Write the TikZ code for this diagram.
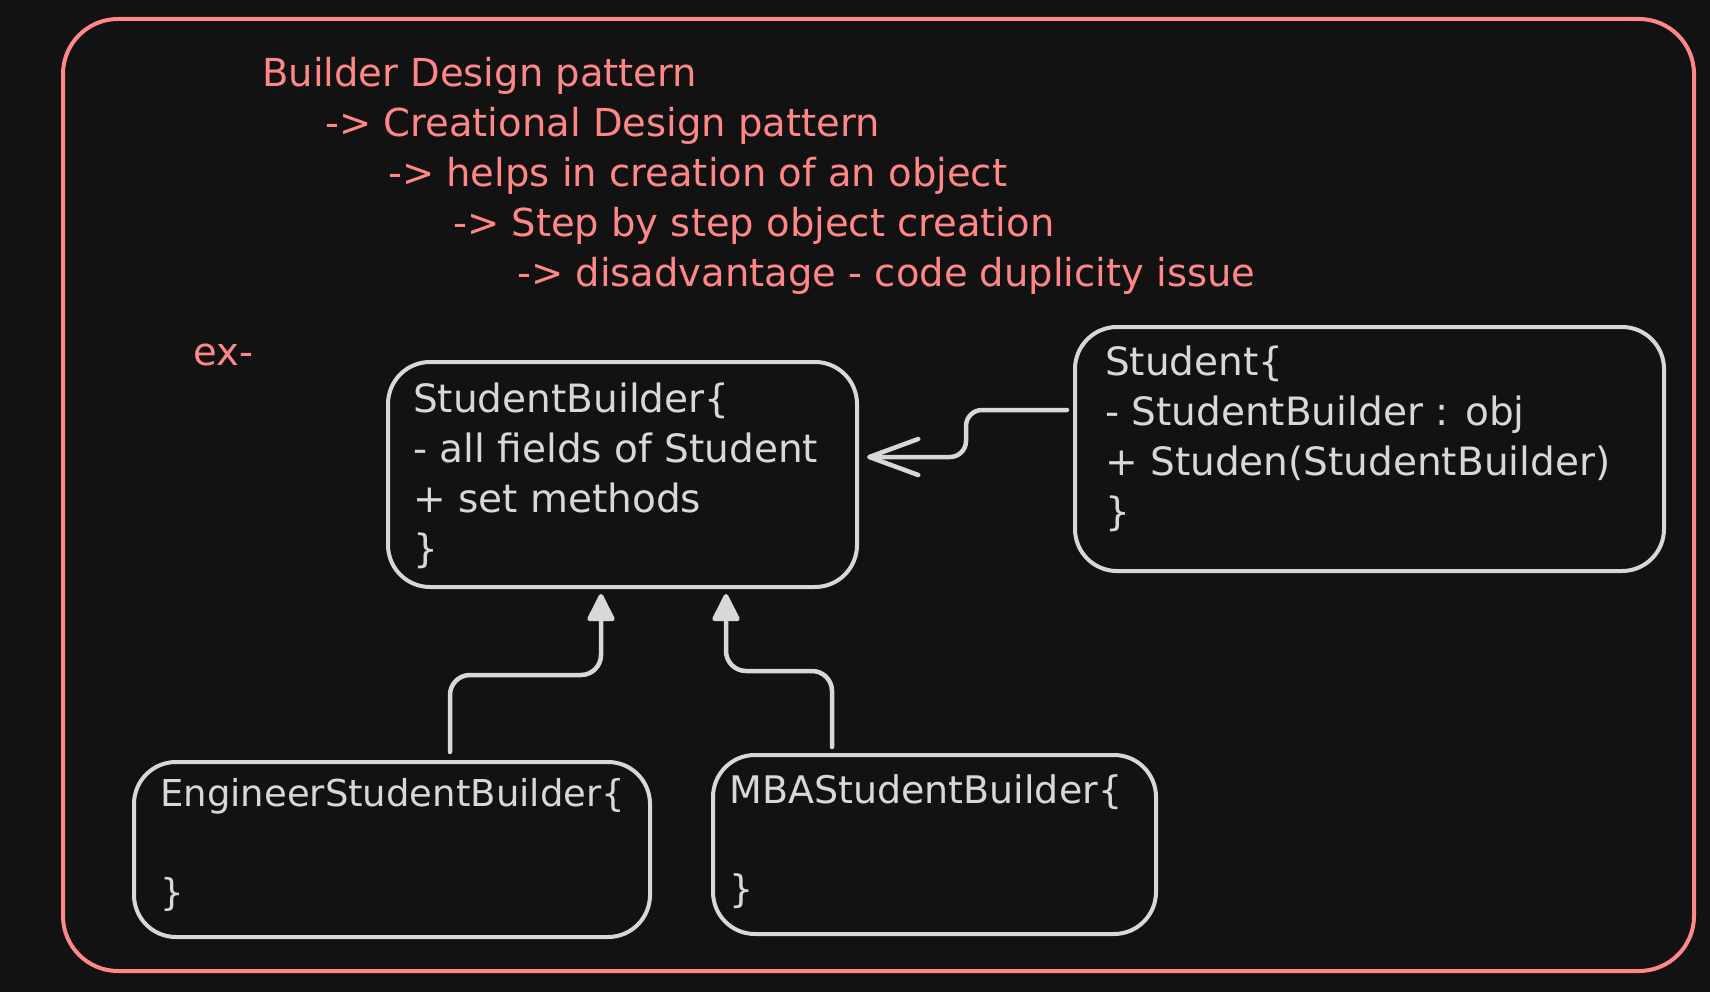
\documentclass[tikz,border=0pt]{standalone}
\usepackage{fontspec}
\setmainfont{DejaVu Sans}
\usetikzlibrary{arrows.meta}
\definecolor{bg}{HTML}{121212}
\definecolor{salmon}{HTML}{FF8787}
\definecolor{chalk}{HTML}{D8D8D8}

\begin{document}
\begin{tikzpicture}[x=1pt,y=-1pt,
  note/.style={text=salmon,font=\fontsize{38.5}{50}\selectfont,inner sep=0pt,anchor=base west},
  umlbox/.style={draw=chalk,line width=4pt,rounded corners=42pt,inner sep=0pt,outer sep=0pt,anchor=north west},
  boxtext/.style={text=chalk,font=\fontsize{39}{50}\selectfont,inner sep=0pt,anchor=base west,align=left},
  assoc/.style={draw=chalk,line width=4.5pt,line cap=round,rounded corners=16pt,
    -{Straight Barb[length=49pt,width=36pt,round]}},
  inherit/.style={draw=chalk,line width=4.5pt,line cap=round,rounded corners=20pt,
    -{Triangle[length=30pt,width=29pt,round]}}]
				\def\gap{50};
				% page and frame
				\fill[bg] (0,0) rectangle (1710,992);
				\useasboundingbox (0,0) rectangle (1710,992);
				\draw[salmon,line width=4pt,rounded corners=55pt] (63,19) rectangle (1694,971);
				% notes
				\node[note] (title) at (262,87) {Builder Design pattern};
				\node[note] (kind) at (325,{87+\gap}) {-> Creational Design pattern};
				\node[note] (help) at (388,{87+2*\gap}) {-> helps in creation of an object};
				\node[note] (step) at (453,{87+3*\gap}) {-> Step by step object creation};
				\node[note] (cons) at (517,{87+4*\gap}) {-> disadvantage - code duplicity issue};
				\node[note] (ex) at (193,365) {ex-};
				% classes (text nodes sit on their last line)
				\node[umlbox,minimum width=469pt,minimum height=225pt] (builder) at (388,362) {};
				\node[boxtext] (buildertext) at (413,562) {StudentBuilder\{\\- all fields of Student\\+ set methods\\\}};
				\node[umlbox,minimum width=589pt,minimum height=244pt] (student) at (1075,327) {};
				\node[boxtext] (studenttext) at (1105,525) {Student\{\\- StudentBuilder : obj\\+ Studen(StudentBuilder)\\\}};
				\node[umlbox,minimum width=516pt,minimum height=175pt] (eng) at (134,762) {};
				\node[boxtext,font=\fontsize{37}{50}\selectfont] (engtext) at (160,905) {EngineerStudentBuilder\{\\[49pt]\}};
				\node[umlbox,minimum width=443pt,minimum height=179pt] (mba) at (713,755) {};
				\node[boxtext,font=\fontsize{38}{50}\selectfont] (mbatext) at (729,902) {MBAStudentBuilder\{\\[49pt]\}};
				% connectors
				\draw[assoc] ([shift={(-8pt,39pt)}]student.west) -- ++(-101,0) -- ++(0,47)
				-- ([shift={(10pt,17.5pt)}]builder.east);
				\draw[inherit] ([shift={(58pt,10pt)}]eng.north) -- ++(0,-77)
				-| ([shift={(-21.5pt,-7pt)}]builder.south);
				\draw[inherit] ([shift={(-102.5pt,8pt)}]mba.north) -- ++(0,-76)
				-| ([shift={(103.5pt,-7pt)}]builder.south);
			\end{tikzpicture}
\end{document}
